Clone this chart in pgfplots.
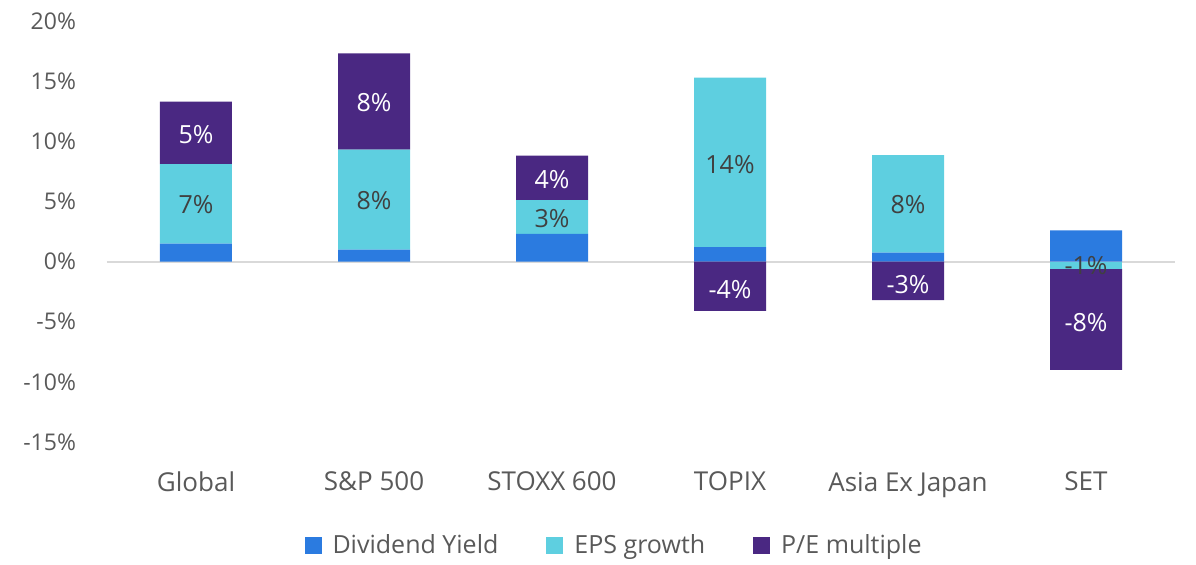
\documentclass[border=0pt]{standalone}
\usepackage{pgfplots}
\pgfplotsset{compat=1.18}
\usepackage{fontspec}
\setmainfont{Open Sans}
\definecolor{divc}{HTML}{2B7BE0}
\definecolor{epsc}{HTML}{5ECFE0}
\definecolor{pec}{HTML}{4A2882}
\definecolor{txt}{HTML}{595959}
\definecolor{lbl}{HTML}{404040}
\pgfplotsset{
  base/.style={
    at={(0,0)}, anchor=south west,
    scale only axis, width=534pt, height=210.5pt,
    xmin=-0.5, xmax=5.5, ymin=-15, ymax=20,
  },
  hid/.style={base, hide axis},
}
\begin{document}
\begin{tikzpicture}
% base axis: ticks, labels and zero line
\begin{axis}[base,
  axis line style={draw=none},
  major tick length=0pt,
  xtick={0,1,2,3,4,5},
  xticklabels={Global, S\&P 500, STOXX 600, TOPIX, Asia Ex Japan, SET},
  ytick={-15,-10,-5,0,5,10,15,20},
  yticklabels={-15\%,-10\%,-5\%,0\%,5\%,10\%,15\%,20\%},
  yticklabel style={text=txt, xshift=-12pt, font=\fontsize{11.5}{13}\selectfont},
  xticklabel style={text=txt, yshift=-11.5pt, font=\fontsize{13}{15}\selectfont},
]
\addplot[draw=gray!30, line width=1pt, mark=none] coordinates {(-0.5,0) (5.5,0)};
\end{axis}
% positive stack
\begin{axis}[hid,
  ybar stacked, bar width=36pt,
  legend style={draw=none, fill=none, at={(0.4757,-0.2447)}, anchor=center,
    legend columns=3, font=\fontsize{12.5}{14}\selectfont, text=txt,
    /tikz/every odd column/.append style={column sep=3.5pt},
    /tikz/every even column/.append style={column sep=22pt},
    legend cell align=left},
  legend image code/.code={\fill[#1] (0pt,-4.25pt) rectangle (8.5pt,4.25pt);},
]
\addplot[fill=divc, draw=none] coordinates {(0,1.5) (1,1.0) (2,2.3) (3,1.2) (4,0.75) (5,2.6)};
\addlegendentry{Dividend Yield}
\addplot[fill=epsc, draw=none] coordinates {(0,6.6) (1,8.3) (2,2.8) (3,14.1) (4,8.1) (5,0)};
\addlegendentry{EPS growth}
\addplot[fill=pec, draw=none] coordinates {(0,5.2) (1,8.0) (2,3.7) (3,0) (4,0) (5,0)};
\addlegendentry{P/E multiple}
\end{axis}
% negative stack
\begin{axis}[hid, ybar stacked, bar width=36pt]
\addplot[fill=epsc, draw=none] coordinates {(0,0) (1,0) (2,0) (3,0) (4,0) (5,-0.6)};
\addplot[fill=pec, draw=none] coordinates {(0,0) (1,0) (2,0) (3,-4.1) (4,-3.2) (5,-8.4)};
\end{axis}
% data labels
\begin{axis}[hid, point meta=explicit symbolic]
\addplot[draw=none, mark=none, nodes near coords,
  every node near coord/.style={anchor=center, text=lbl, font=\fontsize{12.5}{14}\selectfont}]
  coordinates {(0,4.7) [7\%] (1,5.1) [8\%] (2,3.6) [3\%] (3,8.1) [14\%] (4,4.7) [8\%] (5,-0.3) [-1\%]};
\addplot[draw=none, mark=none, nodes near coords,
  every node near coord/.style={anchor=center, text=white, font=\fontsize{12.5}{14}\selectfont}]
  coordinates {(0,10.6) [5\%] (1,13.2) [8\%] (2,6.8) [4\%] (3,-2.3) [-4\%] (4,-1.9) [-3\%] (5,-5.1) [-8\%]};
\end{axis}
\path[use as bounding box] (-53.5pt,-59pt) rectangle (544.5pt,221pt);
\end{tikzpicture}
\end{document}
